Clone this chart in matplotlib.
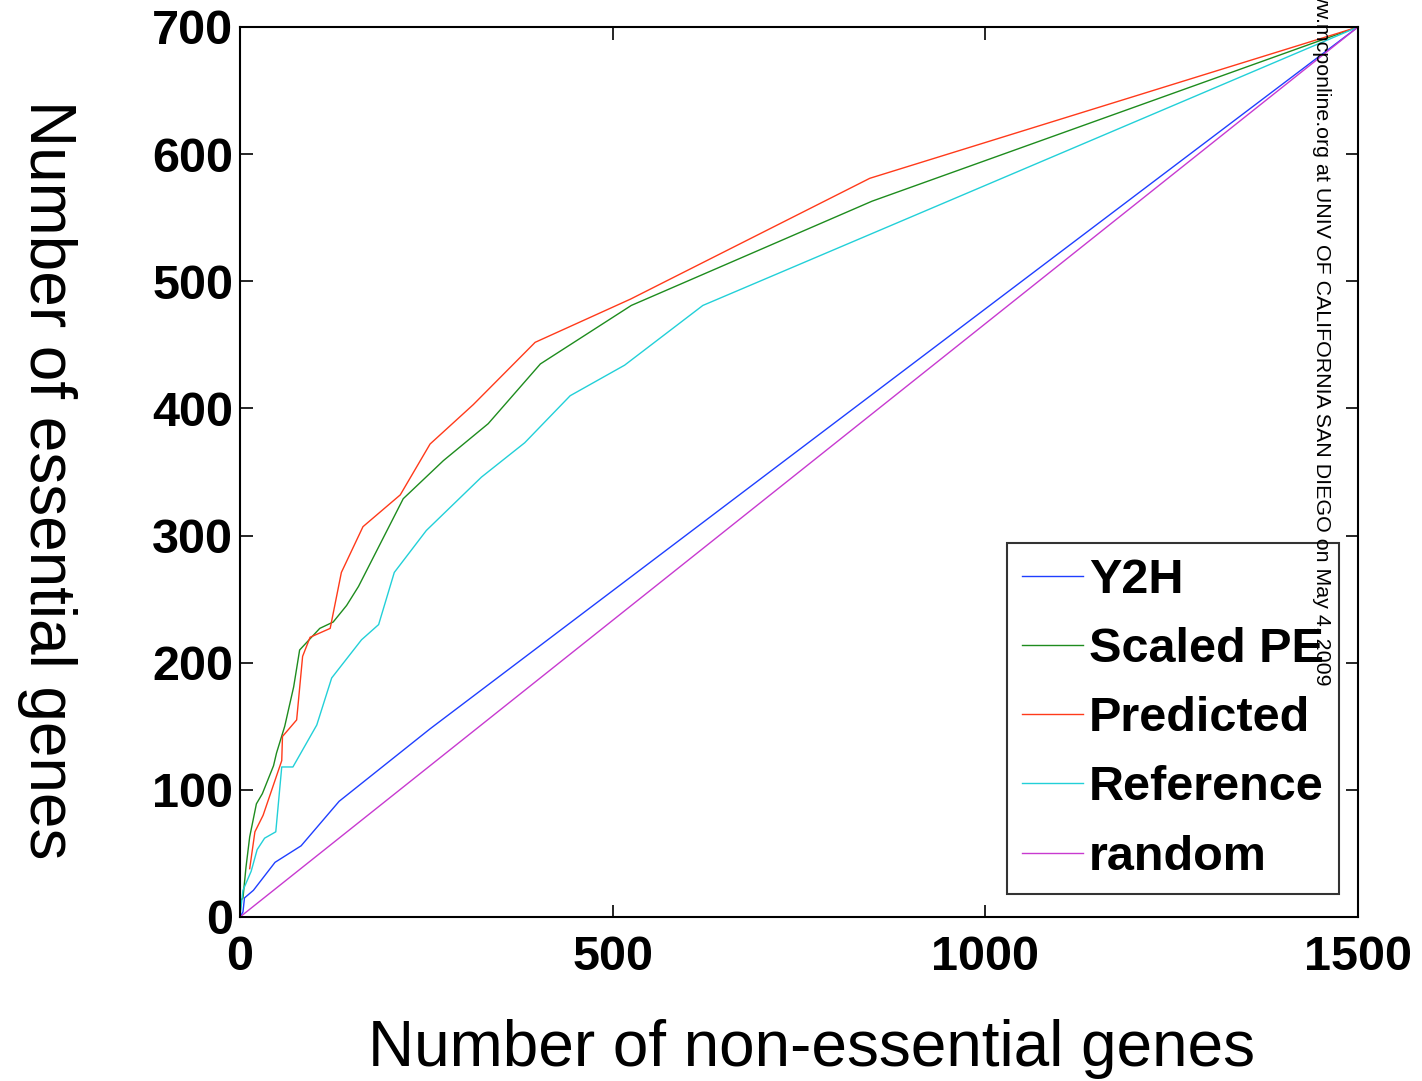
import matplotlib
matplotlib.use("Agg")
import matplotlib.pyplot as plt

plt.rcParams['font.family'] = ['Liberation Sans', 'DejaVu Sans']

# curves (x = non-essential genes, y = essential genes)
y2h_x = [0, 2, 4, 6, 18, 47, 82, 133, 255, 1500]
y2h_y = [0, 2, 4, 15, 21, 43, 56, 91, 148, 700]

pe_x = [0, 1, 4, 8, 13, 22, 30, 45, 49, 60, 72, 80, 107, 125, 143, 159, 219,
        273, 333, 403, 525, 848, 1500]
pe_y = [0, 13, 15, 39, 63, 89, 97, 119, 129, 150, 181, 210, 227, 232, 245, 260,
        329, 359, 388, 435, 481, 563, 700]

pred_x = [13, 20, 31, 56, 57, 76, 84, 94, 121, 136, 165, 215, 255, 313, 396,
          524, 845, 1500]
pred_y = [38, 67, 80, 123, 142, 155, 205, 220, 227, 271, 307, 332, 372, 403,
          452, 486, 581, 700]

ref_x = [0, 4, 15, 23, 33, 48, 56, 71, 103, 123, 163, 186, 207, 250, 324, 382,
         443, 516, 621, 1500]
ref_y = [0, 21, 36, 53, 62, 67, 118, 118, 151, 188, 218, 230, 271, 304, 346,
         373, 410, 434, 481, 700]

rand_x = [0, 1500]
rand_y = [0, 700]

labels = ['Y2H', 'Scaled PE', 'Predicted', 'Reference', 'random']
colors = ['#1f3fff', '#1e8c1e', '#ff3a1a', '#22d0d8', '#c83ad0']

W, H = 1422, 1081
fig = plt.figure(figsize=(W / 100, H / 100), dpi=100)
ax = fig.add_axes([240 / W, 1 - 917 / H, (1358 - 240) / W, (917 - 27) / H])

series = [(y2h_x, y2h_y), (pe_x, pe_y), (pred_x, pred_y), (ref_x, ref_y), (rand_x, rand_y)]
for (xs, ys), lab, c in zip(series, labels, colors):
    ax.plot(xs, ys, color=c, lw=1.0, label=lab)

ax.set_xlim(0, 1500)
ax.set_ylim(0, 700)
ax.set_xticks([0, 500, 1000, 1500])
ax.set_yticks(range(0, 701, 100))
ax.tick_params(direction='in', length=9, width=1.2, top=True, right=True,
               labelsize=35)
ax.tick_params(axis='x', pad=13)
ax.tick_params(axis='y', pad=5)
for lbl in ax.get_xticklabels() + ax.get_yticklabels():
    lbl.set_fontweight('bold')
for sp in ax.spines.values():
    sp.set_linewidth(1.5)

leg = ax.legend(loc='upper left', bbox_to_anchor=(1007 / W, 1 - 543 / H),
                bbox_transform=fig.transFigure, borderaxespad=0,
                fancybox=False, frameon=True, edgecolor='black',
                prop={'size': 35, 'weight': 'bold'},
                handlelength=1.27, handletextpad=0.12, labelspacing=0.5,
                borderpad=0.3)
leg.get_frame().set_linewidth(1.5)

fig.text(812 / W, 1 - 1066 / H, 'Number of non-essential genes', fontsize=46,
         ha='center', va='baseline')
fig.text(47 / W, 1 - 480 / H, 'Number of essential genes', fontsize=46,
         rotation=270, ha='center', va='center')

# journal watermark, runs off the top edge like in the original
fig.text(1322 / W, 1 - 685 / H,
         'www.mcponline.org at UNIV OF CALIFORNIA SAN DIEGO on May 4, 2009',
         fontsize=15.4, rotation=270, rotation_mode='anchor',
         ha='right', va='center')

fig.savefig('out.png', dpi=100)
